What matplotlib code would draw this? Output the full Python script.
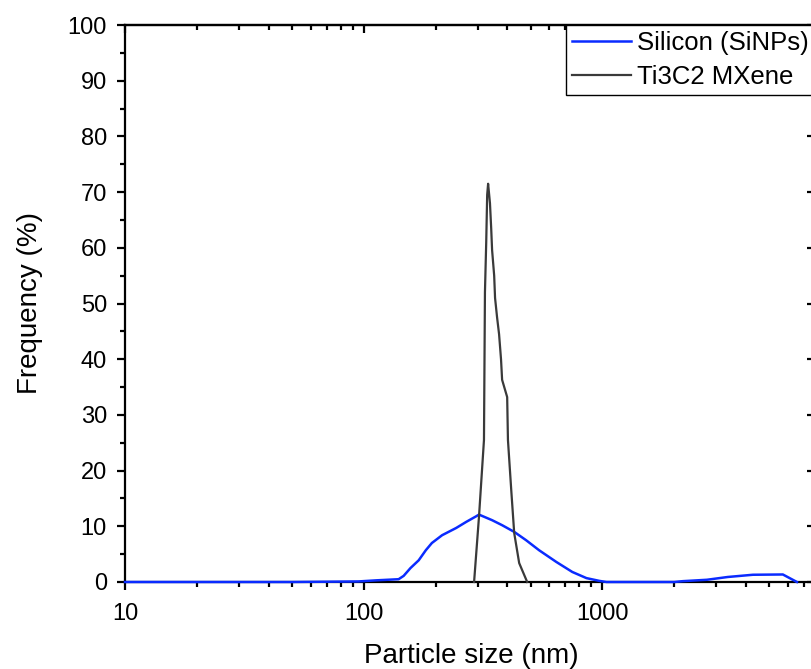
import matplotlib
matplotlib.use('Agg')
import matplotlib.pyplot as plt
import matplotlib.ticker as ticker
import numpy as np

plt.rcParams['font.family'] = ['Liberation Sans', 'DejaVu Sans']

# particle size distribution (nm, %)
si_size = [10, 20, 50, 95, 113, 140, 147, 157, 170, 182, 193, 213, 244, 269, 296, 304,
           345, 380, 427, 479, 543, 641, 748, 857, 971, 1040, 1500, 2000, 2170, 2740,
           3350, 4270, 5700, 6530]
si_freq = [0, 0, 0, 0.1, 0.3, 0.5, 1.1, 2.5, 3.9, 5.7, 7.0, 8.4, 9.7, 10.8, 11.8, 12.1,
           11.1, 10.2, 9.0, 7.5, 5.7, 3.6, 1.8, 0.7, 0.2, 0, 0, 0, 0.15, 0.4,
           0.9, 1.3, 1.35, 0]

mx_size = [290, 304, 319, 322, 326, 329, 332, 338, 342, 345, 352, 355, 362, 369, 376,
           380, 399, 402, 415, 427, 448, 484]
mx_freq = [0, 11.7, 25.5, 52, 61, 69.5, 71.5, 68, 63.5, 59.6, 55, 51, 47.5, 44.5, 40,
           36.3, 33.2, 25.5, 16.5, 8.8, 3.4, 0]

labels = ['Silicon (SiNPs)', 'Ti3C2 MXene']

W, H = 811, 669
fig = plt.figure(figsize=(W/100., H/100.), dpi=100)
ax = fig.add_axes([125./W, 1-582./H, (818.-125.)/W, (582.-25.)/H])

l1, = ax.plot(si_size, si_freq, color='#0a2bff', lw=1.8, label=labels[0], zorder=3, clip_on=False)
l2, = ax.plot(mx_size, mx_freq, color='#3a3a3a', lw=1.6, label=labels[1], zorder=4, clip_on=False)

ax.set_xscale('log')
ax.set_xlim(10, 8000)
ax.set_ylim(0, 100)

ax.xaxis.set_major_locator(ticker.LogLocator(base=10, numticks=10))
ax.xaxis.set_minor_locator(ticker.LogLocator(base=10, subs=np.arange(2, 10), numticks=10))
ax.xaxis.set_major_formatter(ticker.FuncFormatter(lambda v, p: '%d' % v))
ax.xaxis.set_minor_formatter(ticker.NullFormatter())
ax.yaxis.set_major_locator(ticker.MultipleLocator(10))
ax.yaxis.set_minor_locator(ticker.MultipleLocator(5))

for s in ax.spines.values():
    s.set_linewidth(1.6)

ax.tick_params(which='major', direction='out', length=6, width=1.6, labelsize=17)
ax.tick_params(which='minor', direction='out', length=3.5, width=1.6)
ax.tick_params(axis='x', which='major', pad=9)
ax.tick_params(axis='y', which='major', pad=7)

# mirrored ticks on top / right pointing inward
sec_x = ax.secondary_xaxis('top')
sec_x.set_xscale('log')
sec_x.xaxis.set_major_locator(ticker.LogLocator(base=10, numticks=10))
sec_x.xaxis.set_minor_locator(ticker.LogLocator(base=10, subs=np.arange(2, 10), numticks=10))
sec_x.tick_params(which='major', direction='in', length=6, width=1.6, labeltop=False)
sec_x.tick_params(which='minor', direction='in', length=3.5, width=1.6)
sec_x.xaxis.set_major_formatter(ticker.NullFormatter())
sec_x.xaxis.set_minor_formatter(ticker.NullFormatter())
sec_x.spines['top'].set_linewidth(1.6)

sec_y = ax.secondary_yaxis('right')
sec_y.yaxis.set_major_locator(ticker.MultipleLocator(10))
sec_y.yaxis.set_minor_locator(ticker.MultipleLocator(5))
sec_y.tick_params(which='major', direction='in', length=8, width=1.6, labelright=False)
sec_y.tick_params(which='minor', direction='in', length=5, width=1.6)
sec_y.spines['right'].set_linewidth(1.6)

ax.set_xlabel('Particle size (nm)', fontsize=20, labelpad=13)
ax.set_ylabel('Frequency (%)', fontsize=20, labelpad=18)

# legend on the figure so it sits above the mirrored ticks
leg = fig.legend(handles=[l1, l2], loc='upper left', bbox_to_anchor=(566./W, 1-25./H),
                 bbox_transform=fig.transFigure, fontsize=18.5, frameon=True, fancybox=False,
                 borderpad=0.22, borderaxespad=0, labelspacing=0.42, handlelength=2.3,
                 handletextpad=0.25, framealpha=1.0)
leg.get_frame().set_edgecolor('black')
leg.get_frame().set_linewidth(1.0)
leg.set_zorder(10)

plt.savefig('out.png', dpi=100, facecolor='w')
plt.close(fig)
